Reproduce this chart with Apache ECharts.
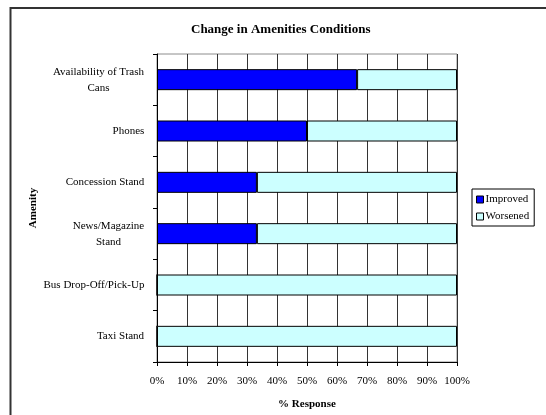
<!DOCTYPE html>
<html>
<head>
<meta charset="utf-8">
<script src="https://cdn.jsdelivr.net/npm/echarts@6/dist/echarts.min.js"></script>
<style>
  html, body { margin: 0; padding: 0; background: #fff; }
  #chart { width: 546px; height: 415px; }
</style>
</head>
<body>
<div id="chart"></div>
<script>
// Amenities, top to bottom
var amenities = [
  'Availability of Trash\nCans',
  'Phones',
  'Concession Stand',
  'News/Magazine\nStand',
  'Bus Drop-Off/Pick-Up',
  'Taxi Stand'
];
// Share of responses (%)
var improved = [66.7, 50, 33.3, 33.3, 0, 0];
var worsened = [33.3, 50, 66.7, 66.7, 100, 100];
var xTicks = [0, 10, 20, 30, 40, 50, 60, 70, 80, 90, 100];

var FONT = '"Liberation Serif", "Times New Roman", serif';

// Multi-line labels: centre every line inside a box as wide as the longest line
var ctx = document.createElement('canvas').getContext('2d');
ctx.font = '11px ' + FONT;
var rich = {};
amenities.forEach(function (name, i) {
  var lines = name.split('\n');
  var w = Math.max.apply(null, lines.map(function (l) { return ctx.measureText(l).width; }));
  rich['r' + i] = { width: Math.ceil(w) + 1, align: 'center', fontFamily: FONT, fontSize: 11, color: '#000', lineHeight: 16 };
});

var chart = echarts.init(document.getElementById('chart'));
chart.setOption({
  animation: false,
  backgroundColor: '#fff',
  textStyle: { fontFamily: FONT, color: '#000' },
  graphic: [
    // outer frame
    { type: 'rect', shape: { x: 10.5, y: 8, width: 560, height: 430 },
      style: { fill: 'none', stroke: '#333', lineWidth: 2 }, z: 100 },
    { type: 'text', left: 191, top: 23,
      style: { text: 'Change in Amenities Conditions', font: 'bold 13px ' + FONT, fill: '#000' } }
  ],
  grid: {
    left: 157, top: 54, width: 300, height: 308,
    show: true, borderColor: '#8c8c8c', borderWidth: 1, backgroundColor: '#fff'
  },
  legend: {
    orient: 'vertical',
    left: 472, top: 189,
    width: 68,
    padding: [5, 5, 4, 4],
    itemGap: 6,
    itemWidth: 7, itemHeight: 7,
    icon: 'rect',
    borderColor: '#000', borderWidth: 1,
    selectedMode: false,
    textStyle: { fontFamily: FONT, fontSize: 11, color: '#000', padding: [0, 0, 0, -3] },
    data: [
      { name: 'Improved', itemStyle: { borderColor: '#000', borderWidth: 1 } },
      { name: 'Worsened', itemStyle: { borderColor: '#000', borderWidth: 1 } }
    ]
  },
  xAxis: {
    type: 'value',
    min: 0, max: 100, interval: 10,
    name: '% Response',
    nameLocation: 'middle',
    nameGap: 37,
    nameTextStyle: { fontFamily: FONT, fontWeight: 'bold', fontSize: 11, color: '#000' },
    axisLine: { show: true, lineStyle: { color: '#000', width: 1 } },
    axisTick: { show: true, length: 4, lineStyle: { color: '#000' } },
    axisLabel: { formatter: '{value}%', fontFamily: FONT, fontSize: 11, color: '#000', margin: 14 },
    splitLine: { show: true, lineStyle: { color: '#333', width: 1 } }
  },
  yAxis: {
    type: 'category',
    inverse: true,
    data: amenities,
    name: 'Amenity',
    nameLocation: 'middle',
    nameGap: 118,
    nameMoveOverlap: false,
    nameRotate: 90,
    nameTextStyle: { fontFamily: FONT, fontWeight: 'bold', fontSize: 11, color: '#000' },
    axisLine: { show: true, lineStyle: { color: '#000', width: 1 } },
    axisTick: { show: true, length: 4, lineStyle: { color: '#000' } },
    axisLabel: {
      margin: 12,
      formatter: function (value, idx) {
        return value.split('\n').map(function (l) { return '{r' + idx + '|' + l + '}'; }).join('\n');
      },
      rich: rich
    }
  },
  series: [
    {
      name: 'Improved', type: 'bar', stack: 'resp', data: improved,
      barWidth: 21,
      itemStyle: { color: '#0000ff', borderColor: '#000', borderWidth: 1 }
    },
    {
      name: 'Worsened', type: 'bar', stack: 'resp', data: worsened,
      barWidth: 21,
      itemStyle: { color: '#ccffff', borderColor: '#000', borderWidth: 1 }
    }
  ]
});
</script>
</body>
</html>
